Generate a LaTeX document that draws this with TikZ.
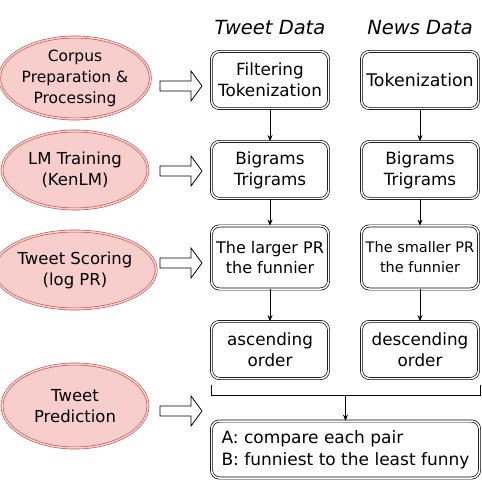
\documentclass[tikz,border=0pt]{standalone}
\usepackage{fontspec}
\setmainfont{DejaVu Sans}
\usetikzlibrary{arrows.meta,shapes.geometric,positioning}
\definecolor{stagefill}{HTML}{F8CECC}
\definecolor{stageline}{HTML}{B85450}
\tikzset{
  stage/.style={ellipse, draw=stageline, double=stagefill, fill=stagefill,
    double distance=1.5pt, line width=0.6pt, minimum width=146pt,
    inner sep=0pt, align=center, font=\fontsize{16.5}{21}\selectfont},
  stepbox/.style={draw, double, double distance=1.5pt, line width=0.7pt,
    rounded corners=8pt, minimum width=117pt, minimum height=57pt,
    inner sep=0pt, align=center, font=\fontsize{16.8}{21}\selectfont},
  flow/.style={-{Stealth[length=6pt,width=5pt]}, line width=0.8pt},
  fatarrow/.style={draw, line width=0.8pt, fill=white},
  colhead/.style={font=\fontsize{19.5}{22}\selectfont\itshape}
}
\begin{document}
\begin{tikzpicture}[x=1pt,y=-1pt]
  \useasboundingbox (0,0) rectangle (482,481);
  % stages
  \node [stage, minimum height=82pt, font=\fontsize{15.5}{21}\selectfont] (corpus) at (75,78) {Corpus\\Preparation \&\\Processing};
  \node [stage, minimum height=78pt] (lm) at (75,170) {LM Training\\(KenLM)};
  \node [stage, minimum height=78pt] (scoring) at (75,270) {Tweet Scoring\\(log PR)};
  \node [stage, minimum height=84pt] (predict) at (75,406) {Tweet\\Prediction};
  % block arrows
  \foreach \y in {86,171,263,411}
    \draw [fatarrow] (160,\y-5) -- (191,\y-5) -- (191,\y-15) -- (202,\y)
      -- (191,\y+15) -- (191,\y+5) -- (160,\y+5) -- cycle;
  % column heads
  \node [colhead] (tweethead) at (270,28) {Tweet Data};
  \node [colhead] (newshead) at (420,28) {News Data};
  % tweet column
  \node [stepbox] (tfilter) at (270,80) {Filtering\\Tokenization};
  \node [stepbox] (tgram) at (270,170) {Bigrams\\Trigrams};
  \node [stepbox, minimum height=63pt, font=\fontsize{16}{20}\selectfont] (tscore) at (270,257.5) {The larger PR\\the funnier};
  \node [stepbox] (torder) at (270,350) {ascending\\order};
  % news column
  \node [stepbox, font=\fontsize{17.4}{21}\selectfont] (ntoken) at (420,80) {Tokenization};
  \node [stepbox] (ngram) at (420,170) {Bigrams\\Trigrams};
  \node [stepbox, minimum height=63pt, font=\fontsize{14.5}{20}\selectfont] (nscore) at (420,257.5) {The smaller PR\\the funnier};
  \node [stepbox] (norder) at (420,350) {descending\\order};
  % prediction
  \node [stepbox, minimum width=268pt, align=left, font=\fontsize{17}{22}\selectfont] (pred) at (345.5,449.5) {A: compare each pair\\B: funniest to the least funny};
  % connectors
  \draw [flow] (tfilter) -- (tgram);
  \draw [flow] (tgram) -- (tscore);
  \draw [flow] (tscore) -- (torder);
  \draw [flow] (ntoken) -- (ngram);
  \draw [flow] (ngram) -- (nscore);
  \draw [flow] (nscore) -- (norder);
  \coordinate (barL) at (211,385);
  \coordinate (barR) at (480,385);
  \coordinate (barmid) at (345.5,395);
  \draw [line width=0.8pt] (barL) |- (barR |- barmid) -- (barR);
  \draw [flow] (pred.north |- barmid) -- (pred.north);
\end{tikzpicture}
\end{document}
